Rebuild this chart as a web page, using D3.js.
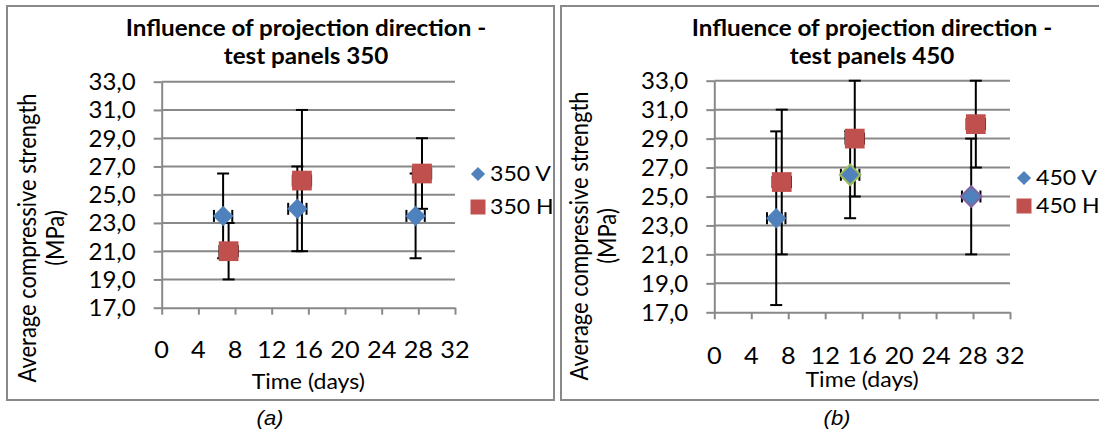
<!DOCTYPE html>
<meta charset="utf-8">
<script src="https://d3js.org/d3.v7.min.js"></script>
<style>
  body { margin: 0; background: #fff; }
  text { font-family: Lato, "Open Sans", sans-serif; fill: #000; }
</style>
<svg id="chart" width="1099" height="435"></svg>
<script>

// Days and average compressive strength (MPa)
var days350V = [6.7, 14.8, 27.7];
var days350H = [7.3, 15.3, 28.4];
var mpa350V = [23.5, 24.0, 23.5];
var mpa350H = [21.0, 26.0, 26.5];
var err350V = [3.0, 3.0, 3.0];
var err350H = [2.0, 5.0, 2.5];

var days450V = [6.7, 14.7, 27.8];
var days450H = [7.3, 15.2, 28.3];
var mpa450V = [23.5, 26.5, 25.0];
var mpa450H = [26.0, 29.0, 30.0];
var err450V = [6.0, 3.0, 4.0];
var err450H = [5.0, 4.0, 3.0];

var dayErr = 1;   // horizontal error bars (days)

var xTicks = [0, 4, 8, 12, 16, 20, 24, 28, 32];
var yTicks = [17, 19, 21, 23, 25, 27, 29, 31, 33];

var blue = "#4F81BD", red = "#C0504D", grey = "#898989";
var SX = 1.1;   // the source figure is a little stretched sideways

var svg = d3.select("#chart");
var fmt = d3.format(".1f");

function pts(days, mpa, err) {
  return days.map((d, i) => ({day: d, mpa: mpa[i], err: err[i]}));
}

// text stretched sideways like the original
function label(g, x, y, txt, size, anchor) {
  return g.append("text")
    .attr("transform", "translate(" + x + "," + y + ") scale(" + SX + ",1)")
    .attr("text-anchor", anchor || "start")
    .attr("dy", "0.35em")
    .style("font-size", size + "px")
    .text(txt);
}

function panel(c) {
  var g = svg.append("g");

  g.append("rect")
    .attr("x", c.box[0]).attr("y", c.box[1])
    .attr("width", c.box[2] - c.box[0]).attr("height", c.box[3] - c.box[1])
    .attr("fill", "none").attr("stroke", grey).attr("stroke-width", 2);

  var x = d3.scaleLinear().domain([0, 32]).range([c.left, c.right]);
  var y = d3.scaleLinear().domain([17, 33]).range([c.bottom, c.top]);

  // horizontal gridlines
  g.append("g").selectAll("line").data(yTicks.slice(1)).join("line")
    .attr("x1", c.left).attr("x2", c.right)
    .attr("y1", d => y(d)).attr("y2", d => y(d))
    .attr("stroke", grey).attr("stroke-width", 2);

  var ya = g.append("g").attr("transform", "translate(" + c.left + ",0)")
    .call(d3.axisLeft(y).tickValues(yTicks).tickSize(8).tickSizeOuter(0).tickFormat(""));
  var xa = g.append("g").attr("transform", "translate(0," + c.bottom + ")")
    .call(d3.axisBottom(x).tickValues(xTicks).tickSize(7).tickSizeOuter(0).tickFormat(""));
  [ya, xa].forEach(a => {
    a.select(".domain").attr("stroke", grey).attr("stroke-width", 2);
    a.selectAll(".tick line").attr("stroke", grey).attr("stroke-width", 2);
  });

  g.append("g").selectAll("text").data(yTicks).join("text")
    .attr("x", c.left - 26).attr("y", d => y(d)).attr("dy", "0.35em")
    .attr("text-anchor", "end").style("font-size", "24px")
    .text(d => fmt(d).replace(".", ","));
  xTicks.forEach(t => label(g, x(t), c.bottom + c.xLabOff, t, 23, "middle"));

  // error bars first, markers on top
  var all = c.series.flatMap(s => s.data);
  var eb = g.append("g").attr("stroke", "#000").attr("stroke-width", 2);
  all.forEach(p => {
    var cx = x(p.day), cy = y(p.mpa), lo = y(p.mpa - p.err), hi = y(p.mpa + p.err);
    eb.append("line").attr("x1", cx).attr("x2", cx).attr("y1", lo).attr("y2", hi);
    eb.append("line").attr("x1", cx - 6).attr("x2", cx + 6).attr("y1", lo).attr("y2", lo);
    eb.append("line").attr("x1", cx - 6).attr("x2", cx + 6).attr("y1", hi).attr("y2", hi);
    var l = x(p.day - dayErr), r = x(p.day + dayErr);
    eb.append("line").attr("x1", l).attr("x2", r).attr("y1", cy).attr("y2", cy);
    eb.append("line").attr("x1", l).attr("x2", l).attr("y1", cy - 6).attr("y2", cy + 6);
    eb.append("line").attr("x1", r).attr("x2", r).attr("y1", cy - 6).attr("y2", cy + 6);
  });

  c.series.forEach(s => {
    var sym = d3.symbol().type(d3.symbolSquare).size(s.diamond ? 210 : 390);
    g.append("g").selectAll("path").data(s.data).join("path")
      .attr("d", sym)
      .attr("transform", d => "translate(" + x(d.day) + "," + y(d.mpa) + ")" + (s.diamond ? " rotate(45)" : ""))
      .attr("fill", s.color)
      .attr("stroke", (d, i) => s.outline ? s.outline[i] : "none")
      .attr("stroke-width", 2);
  });

  // legend
  c.series.forEach((s, i) => {
    var ly = c.legendY[i];
    var sym = d3.symbol().type(d3.symbolSquare).size(s.diamond ? 100 : 225);
    g.append("path").attr("d", sym)
      .attr("transform", "translate(" + c.legendX + "," + ly + ")" + (s.diamond ? " rotate(45)" : ""))
      .attr("fill", s.color);
    label(g, c.legendX + 12, ly, s.name, 21);
  });

  // title
  c.title.forEach((t, i) => {
    label(g, c.titleX, 28 + i * 28, t, 22, "middle").style("font-weight", "bold");
  });

  // axis titles
  ["Average compressive strength", "(MPa)"].forEach((t, i) => {
    g.append("text")
      .attr("transform", "translate(" + c.yTitleX[i] + "," + c.yTitleY + ") scale(" + SX + ",1) rotate(-90)")
      .attr("text-anchor", "middle").attr("dy", "0.35em").style("font-size", "22px")
      .text(t);
  });
  label(g, (c.left + c.right) / 2, c.xTitleY, "Time (days)", 21, "middle");

  // caption under the frame
  label(g, c.capX, 418, c.caption, 20, "middle")
    .style("font-family", "'Liberation Sans', Arial, sans-serif")
    .style("font-style", "italic");
}

panel({
  box: [7, 6, 554, 400],
  left: 161.7, right: 455, top: 81.7, bottom: 307.7,
  xLabOff: 42, xTitleY: 382,
  titleX: 306, title: ["Influence of projection direction -", "test panels 350"],
  yTitleX: [28, 56], yTitleY: 238,
  legendX: 478, legendY: [174, 207],
  capX: 270, caption: "(a)",
  series: [
    {name: "350 V", color: blue, diamond: true, data: pts(days350V, mpa350V, err350V)},
    {name: "350 H", color: red, data: pts(days350H, mpa350H, err350H)}
  ]
});

panel({
  box: [561, 6, 1110, 400],
  left: 714.3, right: 1010, top: 80.7, bottom: 312.3,
  xLabOff: 44, xTitleY: 380,
  titleX: 872, title: ["Influence of projection direction -", "test panels 450"],
  yTitleX: [580, 608], yTitleY: 236,
  legendX: 1024, legendY: [178, 206],
  capX: 837, caption: "(b)",
  series: [
    {name: "450 V", color: blue, diamond: true, outline: ["none", "#9BBB59", "#8064A2"],
     data: pts(days450V, mpa450V, err450V)},
    {name: "450 H", color: red, data: pts(days450H, mpa450H, err450H)}
  ]
});

</script>
